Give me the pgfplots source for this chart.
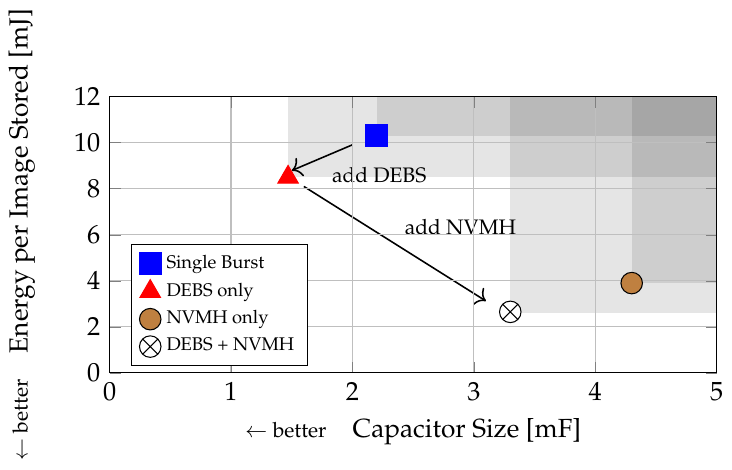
\documentclass[border=0pt]{standalone}
\usepackage[T1]{fontenc}
\usepackage{mathpazo}
\usepackage{pgfplots}
\usetikzlibrary{arrows.meta}
\pgfplotsset{compat=1.18}
\definecolor{nvmhbrown}{RGB}{191,128,64}
\begin{document}
\begin{tikzpicture}
\begin{axis}[
  scale only axis, width=231.5pt, height=105.3pt,
  xmin=0, xmax=5, ymin=0, ymax=12,
  xtick={0,1,2,3,4,5}, ytick={0,2,4,6,8,10,12},
  grid=major, axis on top,
  xlabel={{\footnotesize$\leftarrow$ better}\quad Capacitor Size [mF]},
  ylabel={{\footnotesize$\leftarrow$ better}\quad Energy per Image Stored [mJ]},
  ylabel style={yshift=8pt},
  legend pos=south west,
  legend style={font=\scriptsize, cells={anchor=west}, at={(0.035,0.025)}},
  legend image code/.code={\draw[mark repeat=2,mark phase=2,#1] plot coordinates {(0cm,0cm) (0.1cm,0cm) (0.2cm,0cm)};},
]
% dominated regions
\addplot[draw=none, fill=black, fill opacity=0.1, forget plot] coordinates {(1.47,8.5) (5,8.5) (5,12) (1.47,12)} -- cycle;
\addplot[draw=none, fill=black, fill opacity=0.1, forget plot] coordinates {(2.2,10.3) (5,10.3) (5,12) (2.2,12)} -- cycle;
\addplot[draw=none, fill=black, fill opacity=0.1, forget plot] coordinates {(3.3,2.62) (5,2.62) (5,12) (3.3,12)} -- cycle;
\addplot[draw=none, fill=black, fill opacity=0.1, forget plot] coordinates {(4.3,3.9) (5,3.9) (5,12) (4.3,12)} -- cycle;
% points
\addplot[only marks, mark=square*, mark size=4.2pt, color=blue] coordinates {(2.2,10.3)};
\addlegendentry{Single Burst}
\addplot[only marks, mark=triangle*, mark size=4.5pt, color=red] coordinates {(1.47,8.5)};
\addlegendentry{DEBS only}
\addplot[only marks, mark=*, mark size=4.1pt, draw=black, fill=nvmhbrown] coordinates {(4.3,3.9)};
\addlegendentry{NVMH only}
\addplot[only marks, mark=otimes*, mark size=4.1pt, draw=black, fill=white] coordinates {(3.3,2.65)};
\addlegendentry{DEBS + NVMH}
% arrows and labels
\draw[semithick, -{To[scale=1.25]}] (axis cs:2.0,9.91) -- (axis cs:1.5,8.79);
\draw[semithick, -{To[scale=1.25]}] (axis cs:1.6,8.1) -- (axis cs:3.1,3.12);
\node[font=\footnotesize] at (axis cs:2.22,8.58) {add DEBS};
\node[font=\footnotesize] at (axis cs:2.89,6.35) {add NVMH};
\end{axis}
\end{tikzpicture}
\end{document}
